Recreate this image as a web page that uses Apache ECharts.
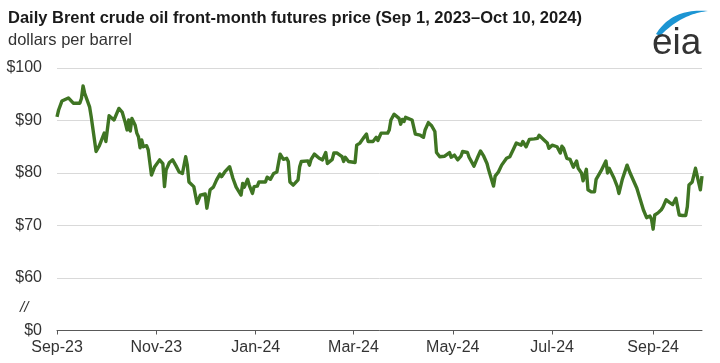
<!DOCTYPE html>
<html>
<head>
<meta charset="utf-8">
<script src="https://cdn.jsdelivr.net/npm/echarts@6/dist/echarts.min.js"></script>
<style>
  html, body { margin: 0; padding: 0; background: #fff; }
  #chart { width: 720px; height: 363px; }
</style>
</head>
<body>
<div id="chart"></div>
<script>
// ---- data ----
const dates = [
  "2023-09-01","2023-09-02","2023-09-03","2023-09-04","2023-09-08","2023-09-09","2023-09-11","2023-09-15","2023-09-16","2023-09-17",
  "2023-09-18","2023-09-19","2023-09-21","2023-09-22","2023-09-23","2023-09-25","2023-09-27","2023-09-30","2023-10-01","2023-10-02",
  "2023-10-03","2023-10-06","2023-10-07","2023-10-09","2023-10-11","2023-10-13","2023-10-14","2023-10-15","2023-10-16","2023-10-17",
  "2023-10-19","2023-10-20","2023-10-21","2023-10-22","2023-10-23","2023-10-24","2023-10-26","2023-10-27","2023-10-29","2023-10-31",
  "2023-11-03","2023-11-05","2023-11-06","2023-11-07","2023-11-09","2023-11-11","2023-11-13","2023-11-15","2023-11-17","2023-11-19",
  "2023-11-20","2023-11-21","2023-11-24","2023-11-26","2023-11-28","2023-12-01","2023-12-02","2023-12-04","2023-12-06","2023-12-08",
  "2023-12-10","2023-12-11","2023-12-13","2023-12-14","2023-12-16","2023-12-18","2023-12-20","2023-12-23","2023-12-24","2023-12-25",
  "2023-12-27","2023-12-28","2023-12-30","2023-12-31","2024-01-02","2024-01-03","2024-01-07","2024-01-08","2024-01-10","2024-01-12",
  "2024-01-14","2024-01-16","2024-01-18","2024-01-20","2024-01-21","2024-01-22","2024-01-24","2024-01-27","2024-01-28","2024-01-29",
  "2024-02-02","2024-02-03","2024-02-04","2024-02-06","2024-02-09","2024-02-11","2024-02-13","2024-02-14","2024-02-17","2024-02-18",
  "2024-02-20","2024-02-23","2024-02-24","2024-02-25","2024-02-27","2024-03-02","2024-03-03","2024-03-05","2024-03-07","2024-03-09",
  "2024-03-10","2024-03-11","2024-03-13","2024-03-15","2024-03-16","2024-03-17","2024-03-18","2024-03-22","2024-03-23","2024-03-24",
  "2024-03-26","2024-03-29","2024-03-30","2024-03-31","2024-04-01","2024-04-02","2024-04-06","2024-04-07","2024-04-08","2024-04-11",
  "2024-04-13","2024-04-14","2024-04-15","2024-04-16","2024-04-18","2024-04-20","2024-04-21","2024-04-23","2024-04-26","2024-04-27",
  "2024-04-29","2024-04-30","2024-05-02","2024-05-04","2024-05-06","2024-05-07","2024-05-10","2024-05-11","2024-05-14","2024-05-16",
  "2024-05-18","2024-05-20","2024-05-22","2024-05-23","2024-05-26","2024-05-27","2024-05-29","2024-05-31","2024-06-03","2024-06-05",
  "2024-06-07","2024-06-09","2024-06-12","2024-06-13","2024-06-15","2024-06-17","2024-06-20","2024-06-22","2024-06-23","2024-06-26",
  "2024-06-28","2024-06-29","2024-07-01","2024-07-04","2024-07-05","2024-07-06","2024-07-07","2024-07-08","2024-07-10","2024-07-12",
  "2024-07-13","2024-07-14","2024-07-16","2024-07-17","2024-07-19","2024-07-20","2024-07-22","2024-07-23","2024-07-25","2024-07-27",
  "2024-07-28","2024-07-31","2024-08-03","2024-08-04","2024-08-05","2024-08-08","2024-08-10","2024-08-11","2024-08-13","2024-08-16",
  "2024-08-18","2024-08-19","2024-08-22","2024-08-26","2024-08-28","2024-08-30","2024-08-31","2024-09-01","2024-09-02","2024-09-04",
  "2024-09-06","2024-09-07","2024-09-09","2024-09-11","2024-09-13","2024-09-15","2024-09-16","2024-09-17","2024-09-19","2024-09-21",
  "2024-09-22","2024-09-23","2024-09-25","2024-09-27","2024-09-28","2024-09-30","2024-10-01"
];
const prices = [
  90.7,92.0,91.8,93.7,94.3,94.1,93.3,93.3,94.2,96.6,
  95.2,95.4,92.6,90.7,91.0,84.1,85.2,87.6,86.0,85.7,
  90.9,90.1,89.8,92.3,91.6,89.5,88.2,90.1,88.0,90.4,
  89.1,87.6,86.9,84.8,86.3,85.0,85.2,84.4,79.6,81.2,
  82.5,81.8,77.4,80.6,82.0,82.5,81.4,80.2,79.9,83.1,
  81.5,78.3,77.4,74.2,75.8,76.0,73.3,76.8,77.3,78.7,
  79.8,79.3,80.2,80.4,81.2,79.0,77.3,75.8,78.0,77.3,
  78.8,77.7,76.1,77.4,77.5,78.3,78.3,79.2,78.8,79.9,
  80.2,83.6,82.6,82.8,82.2,78.3,77.7,78.7,81.2,82.2,
  82.3,81.5,82.6,83.6,82.8,82.5,83.9,81.8,82.6,83.8,
  83.8,83.1,82.2,83.0,82.2,82.0,85.3,85.7,86.6,87.4,
  86.0,85.7,86.0,86.8,86.2,86.9,87.6,87.6,88.2,90.1,
  91.2,90.4,89.3,90.2,89.8,90.6,90.1,90.0,87.4,87.2,
  86.8,88.2,88.5,89.6,89.0,87.9,83.9,83.1,83.2,83.2,
  83.9,83.0,83.4,82.5,83.2,84.1,83.9,83.0,81.3,82.8,
  84.2,83.2,81.8,80.6,77.5,79.4,80.2,81.5,82.8,83.1,
  84.4,85.7,85.3,86.0,85.0,86.4,86.5,86.6,87.2,86.3,
  85.7,84.7,85.3,85.0,84.9,83.8,85.1,84.7,82.8,82.6,
  82.3,81.1,82.3,80.9,80.0,78.5,80.7,76.8,76.4,76.4,
  78.8,80.4,82.3,80.0,80.9,79.0,77.4,76.1,78.7,81.5,
  79.9,80.2,77.1,73.0,71.5,71.8,71.2,69.3,72.0,72.4,
  73.0,73.5,74.9,74.4,74.0,75.2,73.6,72.0,71.9,71.9,
  73.6,77.7,78.3,80.9,79.5,76.8,79.4
];
const tickDates = ["2023-09-01","2023-11-01","2024-01-01","2024-03-01","2024-05-01","2024-07-01","2024-09-01"];
const tickLabels = ["Sep-23","Nov-23","Jan-24","Mar-24","May-24","Jul-24","Sep-24"];
const axisStartDate = "2023-09-01";
const axisEndDate = "2024-10-01";
const yTickValues = [50, 60, 70, 80, 90, 100];
const yTickLabels = ["$0", "$60", "$70", "$80", "$90", "$100"];

// ---- helpers ----
function dayOffset(s) {
  const p = s.split("-").map(Number);
  const b = axisStartDate.split("-").map(Number);
  return Math.round((Date.UTC(p[0], p[1] - 1, p[2]) - Date.UTC(b[0], b[1] - 1, b[2])) / 86400000);
}
const tickOffsets = tickDates.map(dayOffset);
const seriesData = dates.map((d, i) => [dayOffset(d), prices[i]]);
const FONT = '"Liberation Sans", Arial, Helvetica, sans-serif';

// crescent swoosh of the logo (decoration)
function quad(p0, c, p1, n) {
  const pts = [];
  for (let i = 0; i <= n; i++) {
    const t = i / n, u = 1 - t;
    pts.push([u * u * p0[0] + 2 * u * t * c[0] + t * t * p1[0], u * u * p0[1] + 2 * u * t * c[1] + t * t * p1[1]]);
  }
  return pts;
}
const swoosh = quad([656, 34], [672, 8], [708, 11], 24).concat(quad([708, 11], [681, 14], [660, 36], 24));

const chart = echarts.init(document.getElementById('chart'), null, { renderer: 'canvas' });
chart.setOption({
  animation: false,
  backgroundColor: '#ffffff',
  grid: { left: 57, right: 18, top: 68, bottom: 32.5, containLabel: false },
  xAxis: {
    type: 'value',
    min: 0,
    max: dayOffset(axisEndDate),
    axisLine: { show: true, lineStyle: { color: '#595959', width: 1 } },
    axisTick: { show: true, customValues: tickOffsets, length: 4, lineStyle: { color: '#595959' } },
    axisLabel: {
      customValues: tickOffsets,
      formatter: v => { const i = tickOffsets.indexOf(Math.round(v)); return i >= 0 ? tickLabels[i] : ''; },
      color: '#333333', fontSize: 16, fontFamily: FONT, margin: 9
    },
    splitLine: { show: false }
  },
  yAxis: {
    type: 'value',
    min: 50, max: 100, interval: 10,
    axisLine: { show: false },
    axisTick: { show: false },
    axisLabel: {
      formatter: v => { const i = yTickValues.indexOf(v); return i >= 0 ? yTickLabels[i] : ''; },
      color: '#333333', fontSize: 16, fontFamily: FONT, margin: 15
    },
    splitLine: { show: true, lineStyle: { color: '#d9d9d9', width: 1 } }
  },
  series: [{
    type: 'line',
    data: seriesData,
    showSymbol: false,
    smooth: false,
    lineStyle: { color: '#3f7523', width: 3.4, join: 'round' },
    itemStyle: { color: '#3f7523' }
  }],
  graphic: [
    { type: 'text', left: 8, top: 10, style: { text: 'Daily Brent crude oil front-month futures price (Sep 1, 2023\u2013Oct 10, 2024)', font: 'bold 16.5px ' + FONT, fill: '#1a1a1a' } },
    { type: 'text', left: 8, top: 32, style: { text: 'dollars per barrel', font: '16.5px ' + FONT, fill: '#333333' } },
    { type: 'text', left: 20, top: 300, style: { text: '//', font: 'italic 15px ' + FONT, fill: '#333333' } },
    { type: 'polygon', shape: { points: swoosh }, style: { fill: '#1c95d3' } },
    { type: 'text', left: 652, top: 25, style: { text: 'eia', font: '37px ' + FONT, fill: '#333333' } }
  ]
});
</script>
</body>
</html>
